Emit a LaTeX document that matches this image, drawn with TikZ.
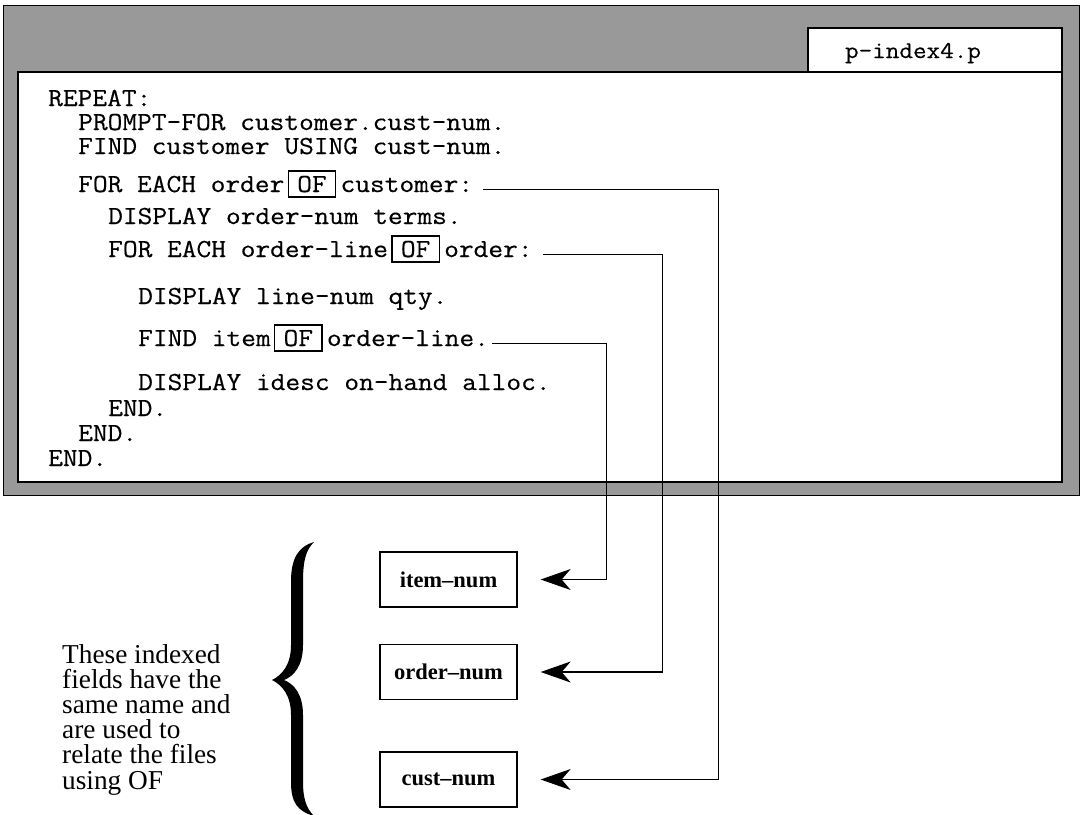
\documentclass[tikz,border=0pt]{standalone}
\usepackage{fontspec}
\setmainfont{Liberation Serif}
\newfontfamily\codefont[FakeStretch=1.1,FakeBold=0.4]{Latin Modern Mono}
\usetikzlibrary{arrows.meta}

\begin{document}
\begin{tikzpicture}[x=1pt,y=-1pt,
  codefont/.style={font=\codefont\fontsize{26}{28}\selectfont},
  code/.style={codefont, inner sep=0pt, anchor=base west, text height=16pt, text depth=4pt},
  ofbox/.style={draw, line width=1.3pt, codefont,
    inner xsep=9pt, inner ysep=5pt, text height=16pt, text depth=0pt, anchor=base west},
  field/.style={draw, line width=1.3pt, minimum width=137pt, minimum height=55pt,
    inner sep=0pt, font=\bfseries\fontsize{22.5}{24}\selectfont},
  conn/.style={line width=1.2pt},
  tip/.style={-{Stealth[length=30pt,width=21pt,inset=9pt]}},
  note/.style={font=\fontsize{27.3}{25.2}\selectfont, align=left, inner sep=0pt, anchor=north west}
]
\useasboundingbox (0,0) rectangle (1081,814);

% window frame, editing area and title tab
\draw[line width=1pt, fill=black!40] (3,5) rectangle (1079,495);
\draw[line width=2pt, fill=white] (18,72) rectangle (1062,482);
\draw[line width=2pt, fill=white] (808,28) rectangle (1062,72);
\node[code, font=\codefont\fontsize{24}{26}\selectfont, anchor=center] (title) at (913,52) {p-index4.p};

% procedure text
\node[code] (l1) at (48,106) {REPEAT:};
\node[code] (l2) at (78,130) {PROMPT-FOR customer.cust-num.};
\node[code] (l3) at (78,154) {FIND customer USING cust-num.};
\node[code] (l4a) at (78,192) {FOR EACH order};
\node[ofbox] (l4b) at ([xshift=3pt]l4a.base east) {OF};
\node[code] (l4c) at ([xshift=4pt]l4b.base east) {customer:};
\node[code] (l5) at (108,224) {DISPLAY order-num terms.};
\node[code] (l6a) at (108,257) {FOR EACH order-line};
\node[ofbox] (l6b) at ([xshift=3pt]l6a.base east) {OF};
\node[code] (l6c) at ([xshift=4pt]l6b.base east) {order:};
\node[code] (l7) at (138,304) {DISPLAY line-num qty.};
\node[code] (l8a) at (138,346) {FIND item};
\node[ofbox] (l8b) at ([xshift=3pt]l8a.base east) {OF};
\node[code] (l8c) at ([xshift=4pt]l8b.base east) {order-line.};
\node[code] (l9) at (138,390) {DISPLAY idesc on-hand alloc.};
\node[code] (l10) at (108,416) {END.};
\node[code] (l11) at (78,441) {END.};
\node[code] (l12) at (48,466) {END.};

% indexed fields
\node[field] (item) at (448.5,579.5) {item–num};
\node[field] (order) at (448.5,672) {order–num};
\node[field] (cust) at (448.5,779.5) {cust–num};

% explanation and brace
\node[note] (expl) at (62,644) {These indexed\\fields have the\\same name and\\are used to\\relate the files\\using OF};
\fill (314,542) .. controls (297,547) and (291,560) .. (291,582)
  -- (291,645) .. controls (291,665) and (282,675) .. (272,680)
  .. controls (282,685) and (291,695) .. (291,715)
  -- (291,782) .. controls (291,802) and (297,811) .. (314,816)
  .. controls (306,808) and (303,798) .. (303,782)
  -- (303,715) .. controls (303,694) and (294,684) .. (284,680)
  .. controls (294,676) and (303,666) .. (303,645)
  -- (303,582) .. controls (303,560) and (306,550) .. (314,542) -- cycle;

% OF relations to the fields
\draw[conn, tip] ([xshift=10pt]l4c.mid east) -| ([xshift=201pt]cust.east) -- ([xshift=23pt]cust.east);
\draw[conn, tip] ([xshift=10pt]l6c.mid east) -| ([xshift=145pt]order.east) -- ([xshift=23pt]order.east);
\draw[conn, tip] ([xshift=3pt]l8c.mid east) -| ([xshift=89pt]item.east) -- ([xshift=23pt]item.east);
\end{tikzpicture}
\end{document}
